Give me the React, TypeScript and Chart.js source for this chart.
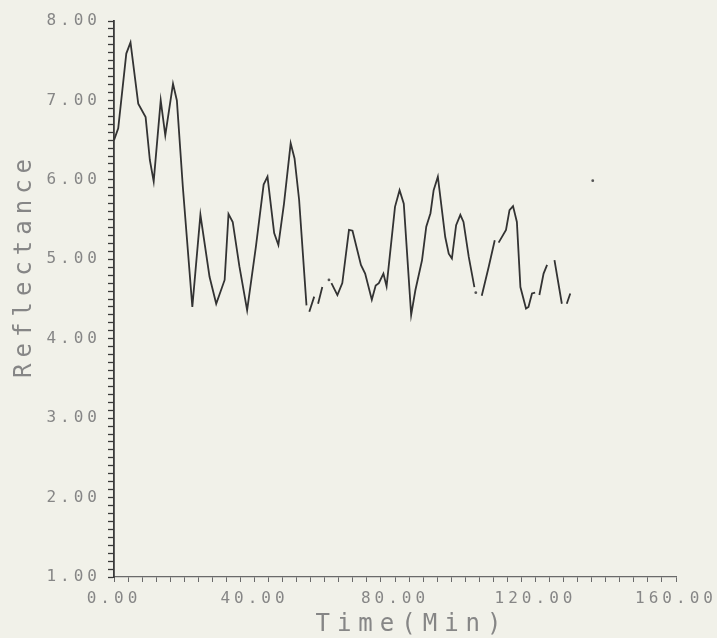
import React, { useEffect, useRef } from "react";
import { Chart, registerables } from "chart.js";

Chart.register(...registerables);

// Time (min) of each traced vertex; null values mark pen breaks in the trace
const times: number[] = [
  0, 1.2, 3.5, 4.7, 6.9, 9.0, 10.2, 11.3, 13.3, 14.6, 16.8, 17.9, 19.6, 22.3,
  24.6, 27.2, 29.1, 31.5, 32.6, 33.8, 35.7, 37.9, 40.4, 42.6, 43.7, 45.6, 46.8,
  48.4, 50.3, 51.4, 52.7, 54.8, 55.2, 55.6, 57.0, 57.5, 58.1, 59.3, 60.2, 61.9,
  63.6, 65.0, 66.9, 67.9, 70.3, 71.5, 73.4, 74.5, 75.4, 76.7, 77.6, 80.0, 81.3,
  82.5, 84.6, 85.8, 87.7, 88.9, 90.1, 91.0, 92.2, 94.3, 95.3, 96.2, 97.4, 98.6,
  99.5, 101.0, 102.6, 103.6, 104.7, 106.7, 108.4, 109.0, 109.5, 111.6, 112.6,
  113.6, 114.7, 115.7, 117.3, 118.0, 119.0, 119.9, 120.5, 121.1, 122.3, 123.3,
  124.3, 125.4, 127.5, 128.2, 128.9, 129.9,
];

const reflectance: (number | null)[] = [
  6.5, 6.65, 7.59, 7.73, 6.96, 6.79, 6.25, 5.98, 7.0, 6.56, 7.21, 7.0, 5.91, 4.4,
  5.56, 4.78, 4.44, 4.74, 5.57, 5.47, 4.91, 4.36, 5.16, 5.94, 6.04, 5.33, 5.18,
  5.7, 6.46, 6.27, 5.75, 4.42, null, 4.34, 4.53, null, 4.44, 4.65, null, 4.7,
  4.55, 4.7, 5.37, 5.36, 4.93, 4.82, 4.49, 4.67, 4.7, 4.82, 4.66, 5.66, 5.87,
  5.7, 4.3, 4.61, 4.99, 5.41, 5.58, 5.87, 6.04, 5.28, 5.07, 5.01, 5.43, 5.56,
  5.47, 5.03, 4.65, null, 4.54, 4.91, 5.24, null, 5.21, 5.37, 5.62,
  5.67, 5.47, 4.65, 4.38, 4.4, 4.57, 4.58, null, 4.55, 4.82, 4.93,
  null, 4.99, 4.44, null, 4.44, 4.57,
];

// Isolated pen dots
const dotTimes: number[] = [61.2, 103.0, 136.3];
const dotValues: number[] = [4.74, 4.58, 5.99];

const xMin = 0;
const xMax = 160;
const xMinorStep = 4;
const xLabelStep = 40;
const yMin = 1;
const yMax = 8;
const yMinorStep = 0.1;

const xTitle = "Time(Min)";
const yTitle = "Reflectance";

const FONT = '"DejaVu Sans Mono", "Liberation Mono", monospace';
const TEXT = "#868686";
const INK = "#333333";

const spacingPlugin = {
  id: "letterSpacing",
  beforeUpdate(chart: any) {
    chart.ctx.letterSpacing = "4px";
  },
  beforeLayout(chart: any) {
    chart.ctx.letterSpacing = "4px";
  },
  beforeDraw(chart: any) {
    chart.ctx.letterSpacing = "4px";
  },
  afterDraw(chart: any) {
    const { ctx, chartArea } = chart;
    ctx.save();
    ctx.fillStyle = TEXT;
    ctx.font = `24px ${FONT}`;
    ctx.textBaseline = "middle";
    ctx.textAlign = "center";
    ctx.letterSpacing = "7px";
    const cx = chartArea.left + chartArea.width * 0.516;
    ctx.fillText(xTitle, cx + 8, chart.height - 13);
    ctx.letterSpacing = "6px";
    ctx.translate(25, chartArea.top + (chartArea.bottom - chartArea.top) * 0.445);
    ctx.rotate(-Math.PI / 2);
    ctx.fillText(yTitle, 3, 0);
    ctx.restore();
  },
};

export default function App() {
  const ref = useRef<HTMLCanvasElement | null>(null);

  useEffect(() => {
    if (!ref.current) return;
    const lineData = times.map((t, i) => ({ x: t, y: reflectance[i] }));
    const dotData = dotTimes.map((t, i) => ({ x: t, y: dotValues[i] }));

    const chart = new Chart(ref.current, {
      type: "line",
      data: {
        datasets: [
          {
            data: lineData as any,
            borderColor: INK,
            borderWidth: 1.8,
            pointRadius: 0,
            tension: 0,
            spanGaps: false,
          },
          {
            data: dotData as any,
            showLine: false,
            pointRadius: 1.4,
            pointBorderWidth: 0,
            pointBackgroundColor: "#555",
          },
        ],
      },
      plugins: [spacingPlugin],
      options: {
        animation: false,
        responsive: true,
        maintainAspectRatio: false,
        events: [],
        layout: { padding: { left: 0, top: 21, right: 41, bottom: 0 } },
        plugins: {
          legend: { display: false },
          tooltip: { enabled: false },
          title: { display: false },
        },
        scales: {
          x: {
            type: "linear",
            min: xMin,
            max: xMax,
            afterFit: (s: any) => {
              s.height = 61;
              s.paddingRight = 0;
              s.paddingLeft = 0;
            },
            border: { display: true, color: "#6a6a6a", width: 1.3 },
            grid: {
              drawOnChartArea: false,
              drawTicks: true,
              tickLength: 5,
              color: "#6a6a6a",
              tickColor: "#6a6a6a",
            },
            ticks: {
              stepSize: xMinorStep,
              autoSkip: false,
              maxRotation: 0,
              padding: 7,
              color: TEXT,
              font: { family: FONT, size: 16 },
              callback: (v: any) => {
                const n = Number(v);
                return Math.abs(n / xLabelStep - Math.round(n / xLabelStep)) < 1e-6
                  ? n.toFixed(2)
                  : "";
              },
            },
          },
          y: {
            type: "linear",
            min: yMin,
            max: yMax,
            afterFit: (s: any) => {
              s.width = 114;
            },
            border: { display: true, color: "#3a3a3a", width: 1.8 },
            grid: {
              drawOnChartArea: false,
              drawTicks: true,
              tickLength: 6,
              color: "#3a3a3a",
              tickColor: "#3a3a3a",
              tickWidth: 1.3,
            },
            ticks: {
              stepSize: yMinorStep,
              autoSkip: false,
              padding: 7,
              color: TEXT,
              font: { family: FONT, size: 16 },
              callback: (v: any) => {
                const n = Number(v);
                return Math.abs(n - Math.round(n)) < 1e-6 ? n.toFixed(2) : "";
              },
            },
          },
        },
      },
    });
    return () => chart.destroy();
  }, []);

  return (
    <div
      style={{
        position: "fixed",
        left: 0,
        top: 0,
        width: 717,
        height: 638,
        background: "#f1f1e9",
      }}
    >
      <canvas ref={ref} />
    </div>
  );
}
